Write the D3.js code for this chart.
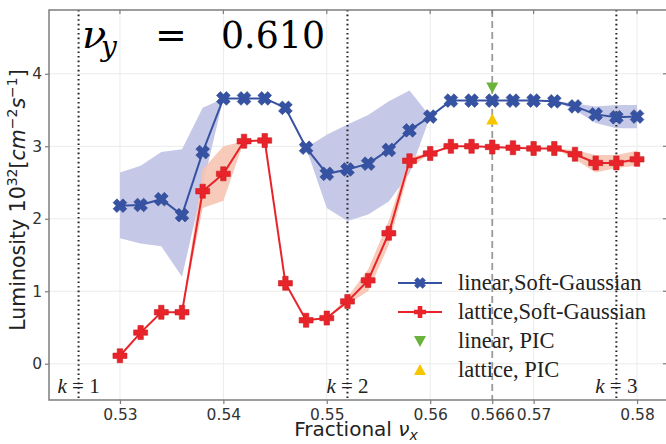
<!DOCTYPE html>
<html>
<head>
<meta charset="utf-8">
<script src="https://cdn.jsdelivr.net/npm/d3@7"></script>
<style>
  body { margin: 0; background: #fff; }
  svg { display: block; }
</style>
</head>
<body>
<div id="chart"></div>
<script>
// ### DATA
var nuX = [0.530, 0.532, 0.534, 0.536, 0.538, 0.540, 0.542, 0.544, 0.546, 0.548,
           0.550, 0.552, 0.554, 0.556, 0.558, 0.560, 0.562, 0.564, 0.566, 0.568,
           0.570, 0.572, 0.574, 0.576, 0.578, 0.580];

// linear, Soft-Gaussian
var linearLum = [2.18, 2.19, 2.27, 2.05, 2.92, 3.66, 3.66, 3.66, 3.53, 2.98,
                 2.62, 2.68, 2.76, 2.95, 3.22, 3.41, 3.63, 3.63, 3.63, 3.63,
                 3.63, 3.62, 3.55, 3.44, 3.40, 3.41];
var linearLow = [1.73, 1.66, 1.62, 1.20, 2.45, 3.66, 3.66, 3.66, 3.53, 2.98,
                 2.15, 1.97, 2.06, 2.24, 2.63, 3.41, 3.63, 3.63, 3.63, 3.63,
                 3.63, 3.62, 3.50, 3.32, 3.25, 3.25];
var linearHigh = [2.64, 2.73, 2.92, 2.96, 3.53, 3.66, 3.66, 3.66, 3.53, 2.98,
                  3.16, 3.30, 3.43, 3.62, 3.77, 3.41, 3.63, 3.63, 3.63, 3.63,
                  3.63, 3.62, 3.59, 3.55, 3.57, 3.57];

// lattice, Soft-Gaussian
var latticeLum = [0.11, 0.43, 0.71, 0.71, 2.38, 2.62, 3.07, 3.08, 1.11, 0.60,
                  0.63, 0.86, 1.15, 1.80, 2.80, 2.90, 3.00, 3.00, 2.99, 2.98,
                  2.97, 2.97, 2.89, 2.77, 2.77, 2.82];
var latticeLow = [0.11, 0.43, 0.71, 0.71, 2.15, 2.25, 3.07, 3.08, 1.11, 0.60,
                  0.63, 0.82, 1.00, 1.64, 2.70, 2.90, 3.00, 3.00, 2.99, 2.98,
                  2.97, 2.97, 2.82, 2.64, 2.70, 2.73];
var latticeHigh = [0.11, 0.43, 0.71, 0.71, 2.68, 3.00, 3.07, 3.08, 1.11, 0.60,
                   0.63, 0.92, 1.30, 1.98, 2.86, 2.90, 3.00, 3.00, 2.99, 2.98,
                   2.97, 2.97, 2.95, 2.88, 2.88, 2.94];

// PIC points
var picX = 0.566;
var picLinear = 3.81;
var picLattice = 3.37;

var xTicks = [0.53, 0.54, 0.55, 0.56, 0.566, 0.57, 0.58];
var yTicks = [0, 1, 2, 3, 4];
var resonanceX = [0.526, 0.552, 0.578];
var resonanceK = ["1", "2", "3"];
var legendLabels = ["linear,Soft-Gaussian", "lattice,Soft-Gaussian", "linear, PIC", "lattice, PIC"];

// ### LAYOUT
var W = 666, H = 444;
var mL = 49, mR = 669, mT = 10, mB = 400;

var blue = "#3652a3", red = "#e8232a";
var blueBand = "#c5c8e6", redBand = "#f6c4b2";

var x = d3.scaleLinear().domain([0.52314, 0.58309]).range([mL, mR]);
var y = d3.scaleLinear().domain([-0.5, 4.88]).range([mB, mT]);

var svg = d3.select("#chart").append("svg")
  .attr("width", W).attr("height", H);

// grid
svg.append("g").selectAll("line")
  .data([0.53, 0.54, 0.55, 0.56, 0.57, 0.58])
  .enter().append("line")
  .attr("x1", d => x(d)).attr("x2", d => x(d))
  .attr("y1", mT).attr("y2", mB)
  .attr("stroke", "#ebebeb").attr("stroke-width", 1);
svg.append("g").selectAll("line")
  .data(yTicks)
  .enter().append("line")
  .attr("x1", mL).attr("x2", mR)
  .attr("y1", d => y(d)).attr("y2", d => y(d))
  .attr("stroke", "#ebebeb").attr("stroke-width", 1);

// bands
function band(lo, hi) {
  return d3.area()
    .x((d, i) => x(nuX[i]))
    .y0((d, i) => y(lo[i]))
    .y1((d, i) => y(hi[i]))(nuX);
}
svg.append("path").attr("d", band(linearLow, linearHigh)).attr("fill", blueBand);
svg.append("path").attr("d", band(latticeLow, latticeHigh)).attr("fill", redBand).attr("opacity", 0.9);

// vertical resonance lines
svg.append("g").selectAll("line")
  .data(resonanceX)
  .enter().append("line")
  .attr("x1", d => x(d)).attr("x2", d => x(d))
  .attr("y1", mT).attr("y2", mB)
  .attr("stroke", "#222").attr("stroke-width", 2)
  .attr("stroke-dasharray", "1.6,3");
svg.append("line")
  .attr("x1", x(picX)).attr("x2", x(picX))
  .attr("y1", mT).attr("y2", mB)
  .attr("stroke", "#9a9a9a").attr("stroke-width", 1.8)
  .attr("stroke-dasharray", "7,4");

// marker shapes
function plusPath(s, w) {
  return "M" + [[-w, -s], [w, -s], [w, -w], [s, -w], [s, w], [w, w], [w, s], [-w, s], [-w, w], [-s, w], [-s, -w], [-w, -w]]
    .map(p => p.join(",")).join("L") + "Z";
}
var crossShape = plusPath(7, 2.7);
var triDown = "M-6,-5L6,-5L0,6Z";
var triUp = "M-6,5L6,5L0,-6Z";

// lines
var line = d3.line().x((d, i) => x(nuX[i]));
function drawSeries(vals, color, rot) {
  svg.append("path")
    .attr("d", line.y(d => y(d))(vals))
    .attr("fill", "none").attr("stroke", color).attr("stroke-width", 2);
  svg.append("g").selectAll("path")
    .data(vals)
    .enter().append("path")
    .attr("d", crossShape)
    .attr("transform", (d, i) => "translate(" + x(nuX[i]) + "," + y(d) + ") rotate(" + rot + ")")
    .attr("fill", color).attr("stroke", d3.color(color).darker(0.4)).attr("stroke-width", 0.6);
}
drawSeries(linearLum, blue, 45);
drawSeries(latticeLum, red, 0);

svg.append("path").attr("d", triDown)
  .attr("transform", "translate(" + x(picX) + "," + y(picLinear) + ")")
  .attr("fill", "#6ab23a");
svg.append("path").attr("d", triUp)
  .attr("transform", "translate(" + x(picX) + "," + y(picLattice) + ")")
  .attr("fill", "#f7c600");

// frame
svg.append("path")
  .attr("d", "M" + mR + "," + mT + "H" + mL + "V" + mB + "H" + mR)
  .attr("fill", "none").attr("stroke", "#7d7d7d").attr("stroke-width", 1.5);

// axes
var xAxis = svg.append("g")
  .attr("transform", "translate(0," + mB + ")")
  .call(d3.axisBottom(x).tickValues(xTicks).tickSize(4).tickPadding(3).tickFormat(d => d));
var yAxis = svg.append("g")
  .attr("transform", "translate(" + mL + ",0)")
  .call(d3.axisLeft(y).tickValues(yTicks).tickSize(4).tickPadding(3).tickFormat(d => d));
[xAxis, yAxis].forEach(function(a) {
  a.select(".domain").remove();
  a.selectAll(".tick line").attr("stroke", "#7d7d7d").attr("stroke-width", 1.2);
  a.selectAll(".tick text")
    .attr("font-family", "DejaVu Sans").attr("font-size", 15.5).attr("fill", "#333");
});
xAxis.selectAll(".tick text").attr("dy", "0.85em");
// top and right inward ticks
svg.append("g").selectAll("line")
  .data(xTicks)
  .enter().append("line")
  .attr("x1", d => x(d)).attr("x2", d => x(d))
  .attr("y1", mT).attr("y2", mT + 4)
  .attr("stroke", "#7d7d7d").attr("stroke-width", 1.2);
svg.append("g").selectAll("line")
  .data(yTicks)
  .enter().append("line")
  .attr("x1", mR - 6).attr("x2", mR)
  .attr("y1", d => y(d)).attr("y2", d => y(d))
  .attr("stroke", "#7d7d7d").attr("stroke-width", 1.2);

// k labels
resonanceK.forEach(function(k, i) {
  var t = svg.append("text")
    .attr("x", x(resonanceX[i])).attr("y", 393)
    .attr("text-anchor", "middle")
    .attr("font-family", "Liberation Serif").attr("font-size", 21).attr("fill", "#222");
  t.append("tspan").attr("font-style", "italic").text("k");
  t.append("tspan").text(" = " + k);
});

// title nu_y = 0.610
var title = svg.append("g").attr("font-family", "DejaVu Serif").attr("fill", "#000");
title.append("text").attr("x", 82).attr("y", 48)
  .attr("font-size", 40).attr("font-style", "italic").text("ν");
title.append("text").attr("x", 101).attr("y", 56)
  .attr("font-size", 28).attr("font-style", "italic").text("y");
title.append("text").attr("x", 155).attr("y", 48)
  .attr("font-size", 38).text("=");
title.append("text").attr("x", 221).attr("y", 48)
  .attr("font-size", 37).attr("textLength", 104).attr("lengthAdjust", "spacingAndGlyphs").text("0.610");

// y label
var yl = svg.append("text")
  .attr("transform", "translate(25," + 200 + ") rotate(-90)")
  .attr("text-anchor", "middle")
  .attr("font-family", "DejaVu Sans").attr("font-size", 20.5).attr("fill", "#222");
yl.append("tspan").text("Luminosity 10");
yl.append("tspan").attr("font-size", 14).attr("dy", -8).text("32");
yl.append("tspan").attr("dy", 8).text("[");
yl.append("tspan").attr("font-style", "italic").text("cm");
yl.append("tspan").attr("font-size", 14).attr("dy", -8).text("−2");
yl.append("tspan").attr("font-style", "italic").attr("dy", 8).text("s");
yl.append("tspan").attr("font-size", 14).attr("dy", -8).text("−1");
yl.append("tspan").attr("dy", 8).text("]");

// x label
var xl = svg.append("text")
  .attr("x", (mL + 663) / 2).attr("y", 436)
  .attr("text-anchor", "middle")
  .attr("font-family", "DejaVu Sans").attr("font-size", 20).attr("fill", "#222");
xl.append("tspan").text("Fractional ");
xl.append("tspan").attr("font-style", "italic").text("ν");
xl.append("tspan").attr("font-style", "italic").attr("font-size", 14).attr("dy", 4).text("x");

// legend
var lg = svg.append("g").attr("transform", "translate(398,283)");
var rowH = 29;
legendLabels.forEach(function(lab, i) {
  var row = lg.append("g").attr("transform", "translate(0," + (i * rowH) + ")");
  if (i < 2) {
    var c = i === 0 ? blue : red;
    row.append("line").attr("x1", 0).attr("x2", 44).attr("y1", 0).attr("y2", 0)
      .attr("stroke", c).attr("stroke-width", 2);
    row.append("path").attr("d", plusPath(6, 2.3))
      .attr("transform", "translate(22,0) rotate(" + (i === 0 ? 45 : 0) + ")")
      .attr("fill", c);
  } else {
    row.append("path").attr("d", i === 2 ? triDown : triUp)
      .attr("transform", "translate(22,0)")
      .attr("fill", i === 2 ? "#6ab23a" : "#f7c600");
  }
  row.append("text").attr("x", 60).attr("y", 7)
    .attr("font-family", "Liberation Serif").attr("font-size", 22.5).attr("fill", "#222")
    .text(lab);
});
</script>
</body>
</html>
